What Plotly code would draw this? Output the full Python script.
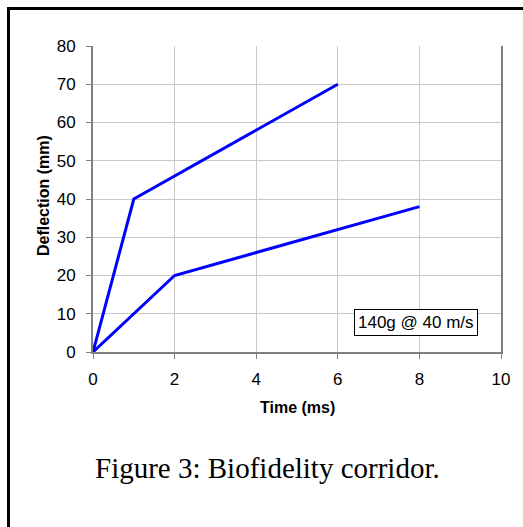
import plotly.graph_objects as go

upper_x = [0, 1, 6]
upper_y = [0, 40, 70]
lower_x = [0, 2, 8]
lower_y = [0, 20, 38]
x_ticks = [0, 2, 4, 6, 8, 10]
y_ticks = [0, 10, 20, 30, 40, 50, 60, 70, 80]
x_title = "<b>Time (ms)</b>"
y_title = "<b>Deflection (mm)</b>"
note_text = "140g @ 40 m/s"
caption = "Figure 3: Biofidelity corridor."

fig = go.Figure()
for xs, ys in [(upper_x, upper_y), (lower_x, lower_y)]:
    fig.add_trace(go.Scatter(x=xs, y=ys, mode="lines",
                             line=dict(color="#0000FF", width=3),
                             showlegend=False, hoverinfo="skip"))

W, H = 523, 527
ml, mr, mt, mb = 93, 22, 46, 175
pw = W - ml - mr
ph = H - mt - mb

def px_x(p):
    return (p - ml) / pw

def px_y(p):
    return 1 - (p - mt) / ph

SANS = "Liberation Sans, Arial"
fig.update_layout(
    width=W, height=H,
    margin=dict(l=ml, r=mr, t=mt, b=mb),
    paper_bgcolor="white", plot_bgcolor="white",
    font=dict(family=SANS, size=17, color="black"),
    xaxis=dict(range=[0, 10], tickvals=x_ticks, showgrid=True,
               gridcolor="#c8c8c8", gridwidth=1,
               showline=True, linecolor="#808080", linewidth=2,
               ticks="outside", ticklen=5, tickcolor="#808080",
               ticklabelstandoff=6,
               zeroline=False, fixedrange=True),
    yaxis=dict(range=[0, 80], tickvals=y_ticks, showgrid=True,
               gridcolor="#c8c8c8", gridwidth=1,
               showline=True, linecolor="#808080", linewidth=2, mirror=True,
               ticks="outside", ticklen=5, tickcolor="#808080",
               ticklabelstandoff=7,
               zeroline=False, fixedrange=True),
)

fig.add_annotation(x=px_x(297), y=px_y(407), xref="paper", yref="paper",
                   text=x_title, showarrow=False, xanchor="center", yanchor="middle",
                   font=dict(size=16, family=SANS))
fig.add_annotation(x=px_x(43), y=px_y(196), xref="paper", yref="paper",
                   text=y_title, showarrow=False, xanchor="center", yanchor="middle",
                   textangle=-90, font=dict(size=16, family=SANS))

fig.add_annotation(x=7.92, y=7.8, xref="x", yref="y", text=note_text,
                   showarrow=False, bordercolor="black", borderwidth=1,
                   borderpad=3, bgcolor="white",
                   font=dict(size=17, family=SANS))

fig.add_annotation(x=px_x(267.5), y=px_y(468), xref="paper", yref="paper",
                   text=caption, showarrow=False, xanchor="center", yanchor="middle",
                   font=dict(size=29, family="Liberation Serif, Times New Roman"))

# outer frame (left and top edges), drawn as one open path
fig.add_shape(type="path", xref="paper", yref="paper",
              path=f"M {px_x(8.5)},{px_y(527)} L {px_x(8.5)},{px_y(8.5)} L {px_x(523)},{px_y(8.5)}",
              line=dict(color="black", width=3))

fig.write_html(
    "out.html",
    config={"displayModeBar": False, "staticPlot": True},
    post_script="document.body.style.margin='0';document.body.style.overflow='hidden';",
)
